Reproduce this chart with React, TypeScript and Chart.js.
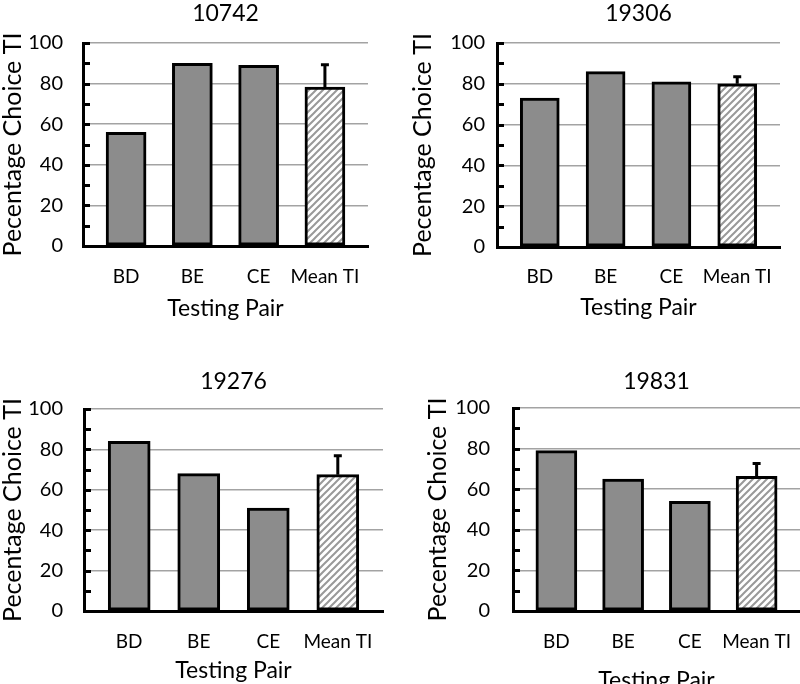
import React, { useEffect, useRef } from "react";
import { Chart, registerables } from "chart.js";

Chart.register(...registerables);

// ---------- data ----------
const categories = ["BD", "BE", "CE", "Mean TI"];
const titles = ["10742", "19306", "19276", "19831"];
const yTickValues = [0, 20, 40, 60, 80, 100];
const minorTickValues = [0, 10, 20, 30, 40, 50, 60, 70, 80, 90, 100];

const values10742 = [56, 90, 89, 78.3];
const values19306 = [73, 86, 81, 80];
const values19276 = [84, 68, 51, 67.5];
const values19831 = [79, 65, 54, 66.3];

const errors10742 = [0, 0, 0, 11];
const errors19306 = [0, 0, 0, 3.5];
const errors19276 = [0, 0, 0, 9.3];
const errors19831 = [0, 0, 0, 6.4];

const hatchedCategory = "Mean TI";
const xAxisTitle = "Testing Pair";
const yAxisTitle = "Pecentage Choice TI";

// ---------- layout / style ----------
const FONT = "Lato, 'Open Sans', sans-serif";
const BAR_GRAY = "#8c8c8c";
const GRID_GRAY = "#a3a3a3";
const X_MIN = -0.65;
const X_MAX = 3.65;

type PanelLayout = {
  left: number; top: number; width: number; height: number;
  axisWidth: number; xHeight: number;
  padLeft: number; padRight: number; padTop: number;
  titlePadBottom: number; yTitlePad: number; yTickPad: number;
  xTickPad: number; xTitlePadBottom: number; barThickness: number;
};

const layouts: PanelLayout[] = [
  { left: 0, top: 0, width: 400, height: 342, axisWidth: 83, xHeight: 96, padLeft: 0, padRight: 32, padTop: 0,
    titlePadBottom: 15.4, yTitlePad: 0, yTickPad: 20, xTickPad: 19, xTitlePadBottom: 20, barThickness: 40 },
  { left: 400, top: 0, width: 400, height: 342, axisWidth: 97, xHeight: 95, padLeft: 0, padRight: 20, padTop: 0,
    titlePadBottom: 15.4, yTitlePad: 10.5, yTickPad: 12, xTickPad: 18, xTitlePadBottom: 21, barThickness: 39 },
  { left: 0, top: 342, width: 400, height: 342, axisWidth: 84, xHeight: 73, padLeft: 0, padRight: 17, padTop: 26.2,
    titlePadBottom: 13.2, yTitlePad: 0, yTickPad: 21, xTickPad: 19, xTitlePadBottom: 0, barThickness: 42 },
  { left: 400, top: 342, width: 440, height: 360, axisWidth: 113, xHeight: 91, padLeft: 0, padRight: 40, padTop: 26.2,
    titlePadBottom: 12.2, yTitlePad: 25, yTickPad: 23, xTickPad: 19, xTitlePadBottom: 8, barThickness: 41 },
];

const panelData = [
  { title: titles[0], values: values10742, errors: errors10742 },
  { title: titles[1], values: values19306, errors: errors19306 },
  { title: titles[2], values: values19276, errors: errors19276 },
  { title: titles[3], values: values19831, errors: errors19831 },
];

function makeHatch(ctx: CanvasRenderingContext2D): CanvasPattern | string {
  const size = 7;
  const tile = document.createElement("canvas");
  tile.width = size;
  tile.height = size;
  const g = tile.getContext("2d");
  if (!g) return "#fff";
  g.fillStyle = "#ffffff";
  g.fillRect(0, 0, size, size);
  g.strokeStyle = "#999999";
  g.lineWidth = 2;
  g.beginPath();
  g.moveTo(-1, size + 1);
  g.lineTo(size + 1, -1);
  g.moveTo(-2, 2);
  g.lineTo(2, -2);
  g.moveTo(size - 2, size + 2);
  g.lineTo(size + 2, size - 2);
  g.stroke();
  return ctx.createPattern(tile, "repeat") || "#fff";
}

const innerTicksPlugin = {
  id: "innerTicks",
  afterDraw(chart: any) {
    const ys = chart.scales.y;
    const ctx = chart.ctx;
    const left = chart.chartArea.left;
    ctx.save();
    ctx.strokeStyle = "#000";
    ctx.lineWidth = 3;
    minorTickValues.forEach((v) => {
      const y = Math.round(ys.getPixelForValue(v)) + 0.5;
      ctx.beginPath();
      ctx.moveTo(left, y);
      ctx.lineTo(left + 7, y);
      ctx.stroke();
    });
    ctx.restore();
  },
};

const errorBarPlugin = {
  id: "errorBars",
  afterDatasetsDraw(chart: any, _args: any, opts: any) {
    const errs: number[] = opts.errors || [];
    const vals: number[] = opts.values || [];
    const meta = chart.getDatasetMeta(0);
    const ys = chart.scales.y;
    const ctx = chart.ctx;
    ctx.save();
    ctx.strokeStyle = "#000";
    ctx.lineWidth = 3;
    meta.data.forEach((bar: any, i: number) => {
      const e = errs[i];
      if (!e) return;
      const yTop = ys.getPixelForValue(vals[i] + e);
      ctx.beginPath();
      ctx.moveTo(bar.x, bar.y);
      ctx.lineTo(bar.x, yTop);
      ctx.moveTo(bar.x - 4, yTop);
      ctx.lineTo(bar.x + 4, yTop);
      ctx.stroke();
    });
    ctx.restore();
  },
};

function Panel({ idx }: { idx: number }) {
  const ref = useRef<HTMLCanvasElement | null>(null);
  const L = layouts[idx];
  const D = panelData[idx];

  useEffect(() => {
    const canvas = ref.current;
    if (!canvas) return;
    const ctx = canvas.getContext("2d");
    if (!ctx) return;
    const hatch = makeHatch(ctx);

    const chart = new Chart(canvas, {
      type: "bar",
      data: {
        datasets: [
          {
            data: D.values.map((v, i) => ({ x: i, y: v })),
            backgroundColor: (c: any) =>
              categories[c.dataIndex] === hatchedCategory ? hatch : BAR_GRAY,
            borderColor: "#000",
            borderWidth: 3,
            borderSkipped: false,
            barThickness: L.barThickness,
          } as any,
        ],
      },
      options: {
        responsive: false,
        animation: false,
        devicePixelRatio: 1,
        layout: {
          padding: { left: L.padLeft, right: L.padRight, top: L.padTop, bottom: 0 },
        },
        plugins: {
          legend: { display: false },
          tooltip: { enabled: false },
          title: {
            display: true,
            text: D.title,
            fullSize: false,
            color: "#000",
            font: { family: FONT, size: 23, weight: "normal", lineHeight: 1.2 },
            padding: { top: 0, bottom: L.titlePadBottom },
          },
          errorBars: { errors: D.errors, values: D.values },
        } as any,
        scales: {
          x: {
            type: "linear",
            offset: false,
            bounds: "data",
            min: X_MIN,
            max: X_MAX,
            afterBuildTicks: (s: any) => {
              s.ticks = categories.map((_, i) => ({ value: i }));
            },
            afterFit: (s: any) => {
              s.height = L.xHeight;
            },
            ticks: {
              autoSkip: false,
              maxRotation: 0,
              padding: L.xTickPad,
              color: "#000",
              font: { family: FONT, size: 19 },
              callback: (v: any) => categories[v as number] ?? "",
            },
            grid: { display: false, drawTicks: false, offset: false },
            border: { display: true, color: "#000", width: 3 },
            title: {
              display: true,
              text: xAxisTitle,
              color: "#000",
              font: { family: FONT, size: 23, lineHeight: 1.2 },
              padding: { top: 0, bottom: L.xTitlePadBottom },
            },
          },
          y: {
            min: 0,
            max: 100,
            afterBuildTicks: (s: any) => {
              s.ticks = yTickValues.map((v) => ({ value: v }));
            },
            afterFit: (s: any) => {
              s.width = L.axisWidth;
            },
            ticks: {
              padding: L.yTickPad,
              color: "#000",
              font: { family: FONT, size: 20 },
            },
            grid: {
              drawTicks: false,
              lineWidth: 1.5,
              color: (c: any) => (c.tick && c.tick.value === 0 ? "rgba(0,0,0,0)" : GRID_GRAY),
            },
            border: { display: true, color: "#000", width: 3 },
            title: {
              display: true,
              text: yAxisTitle,
              color: "#000",
              font: { family: FONT, size: 25, lineHeight: 1 },
              padding: { top: L.yTitlePad, bottom: 0 },
            },
          },
        },
      } as any,
      plugins: [errorBarPlugin, innerTicksPlugin],
    });
    return () => chart.destroy();
  }, []);

  return (
    <div style={{ position: "absolute", left: L.left, top: L.top, width: L.width, height: L.height }}>
      <canvas ref={ref} width={L.width} height={L.height} style={{ display: "block" }} />
    </div>
  );
}

export default function App() {
  useEffect(() => {
    document.body.style.margin = "0";
    document.body.style.overflow = "hidden";
  }, []);
  return (
    <div
      style={{
        position: "fixed",
        left: 0,
        top: 0,
        width: 800,
        height: 684,
        overflow: "hidden",
        background: "#fff",
      }}
    >
      {layouts.map((_, i) => (
        <Panel key={i} idx={i} />
      ))}
    </div>
  );
}
